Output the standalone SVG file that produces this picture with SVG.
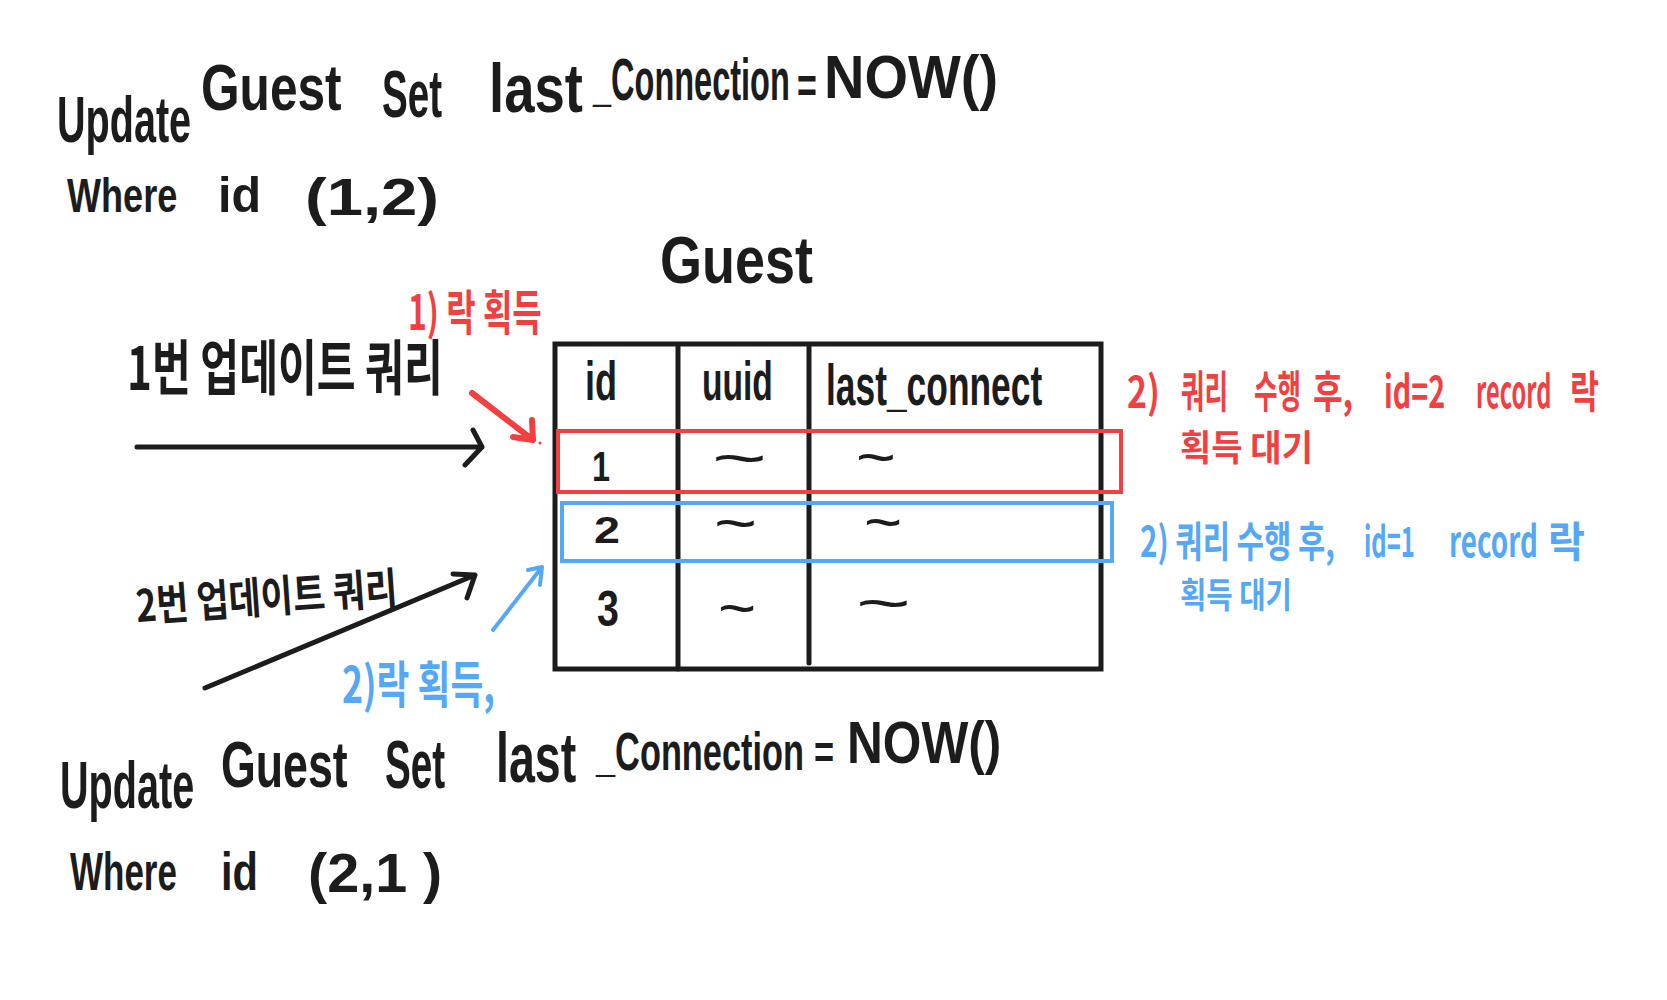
<svg xmlns="http://www.w3.org/2000/svg" width="1667" height="1000" viewBox="0 0 1667 1000">
<style>
.lat{font-family:"Liberation Sans",Arial,sans-serif;fill:#1c1c1c;font-weight:bold}
.tl{font-family:"Liberation Sans",Arial,sans-serif;fill:#1c1c1c}
.kr{font-family:"Noto Sans CJK KR","Noto Sans",sans-serif;font-weight:bold}
.blk{fill:#1c1c1c}
.red{fill:#f23f3f}
.blue{fill:#55a8f8}
.line{fill:none;stroke:#1c1c1c;stroke-width:5;stroke-linecap:round;stroke-linejoin:round}
.rl{fill:none;stroke:#f23f3f;stroke-width:6;stroke-linecap:round;stroke-linejoin:round}
.bl{fill:none;stroke:#55a8f8;stroke-width:4;stroke-linecap:round;stroke-linejoin:round}
</style>
<rect width="1667" height="1000" fill="#ffffff"/>

<g id="query1">
<text class="lat" transform="translate(57,142) scale(0.618,1)" font-size="64" textLength="217" lengthAdjust="spacingAndGlyphs">Update</text>
<text class="lat" transform="translate(201,110) scale(0.777,1)" font-size="64" textLength="181" lengthAdjust="spacingAndGlyphs">Guest</text>
<text class="lat" transform="translate(382,117) scale(0.584,1)" font-size="66" textLength="103" lengthAdjust="spacingAndGlyphs">Set</text>
<text class="lat" transform="translate(489,112) scale(0.802,1)" font-size="68" textLength="117" lengthAdjust="spacingAndGlyphs">last</text>
<text class="lat" transform="translate(593,100) scale(0.542,1)" font-size="60" textLength="363" lengthAdjust="spacingAndGlyphs">_Connection</text>
<text class="lat" transform="translate(797,103) scale(0.685,1)" font-size="50" textLength="29" lengthAdjust="spacingAndGlyphs">=</text>
<text class="lat" transform="translate(824,98) scale(0.902,1)" font-size="62" textLength="193" lengthAdjust="spacingAndGlyphs">NOW()</text>
<text class="lat" transform="translate(67,212) scale(0.75,1)" font-size="48" textLength="147" lengthAdjust="spacingAndGlyphs">Where</text>
<text class="lat" transform="translate(218,212) scale(0.967,1)" font-size="50" textLength="44.5" lengthAdjust="spacingAndGlyphs">id</text>
<text class="lat" transform="translate(305,215) scale(1.253,1)" font-size="52" textLength="107" lengthAdjust="spacingAndGlyphs">(1,2)</text>
</g>

<g id="query2">
<text class="lat" transform="translate(60,808) scale(0.599,1)" font-size="66" textLength="224" lengthAdjust="spacingAndGlyphs">Update</text>
<text class="lat" transform="translate(221,787) scale(0.7,1)" font-size="64" textLength="181" lengthAdjust="spacingAndGlyphs">Guest</text>
<text class="lat" transform="translate(385,788) scale(0.567,1)" font-size="68" textLength="106" lengthAdjust="spacingAndGlyphs">Set</text>
<text class="lat" transform="translate(496,782) scale(0.663,1)" font-size="70" textLength="121" lengthAdjust="spacingAndGlyphs">last</text>
<text class="lat" transform="translate(596,770) scale(0.636,1)" font-size="54" textLength="327" lengthAdjust="spacingAndGlyphs">_Connection</text>
<text class="lat" transform="translate(814,768) scale(0.744,1)" font-size="46" textLength="27" lengthAdjust="spacingAndGlyphs">=</text>
<text class="lat" transform="translate(847,763) scale(0.825,1)" font-size="60" textLength="187" lengthAdjust="spacingAndGlyphs">NOW()</text>
<text class="lat" transform="translate(70,890) scale(0.648,1)" font-size="54" textLength="165" lengthAdjust="spacingAndGlyphs">Where</text>
<text class="lat" transform="translate(221,890) scale(0.771,1)" font-size="54" textLength="48" lengthAdjust="spacingAndGlyphs">id</text>
<text class="lat" transform="translate(308,892) scale(1.025,1)" font-size="56" textLength="131" lengthAdjust="spacingAndGlyphs">(2,1 )</text>
</g>

<g id="guest-table">
<text class="lat" transform="translate(660,283) scale(0.818,1)" font-size="66" textLength="187" lengthAdjust="spacingAndGlyphs">Guest</text>
<rect x="555" y="344" width="546" height="325" fill="none" stroke="#1c1c1c" stroke-width="5"/>
<line class="line" x1="678" y1="347" x2="678" y2="669"/>
<line class="line" x1="809" y1="347" x2="809" y2="663"/>
<text class="lat" transform="translate(585,400) scale(0.654,1)" font-size="55" textLength="49" lengthAdjust="spacingAndGlyphs">id</text>
<text class="lat" transform="translate(702,400) scale(0.611,1)" font-size="55" textLength="116" lengthAdjust="spacingAndGlyphs">uuid</text>
<text class="lat" transform="translate(826,405) scale(0.609,1)" font-size="58" textLength="355" lengthAdjust="spacingAndGlyphs">last_connect</text>
<text class="lat" transform="translate(592,481) scale(0.77,1)" font-size="42" textLength="23.4" lengthAdjust="spacingAndGlyphs">1</text>
<text class="lat" transform="translate(594,543) scale(1.3,1)" font-size="36" textLength="20" lengthAdjust="spacingAndGlyphs">2</text>
<text class="lat" transform="translate(597,626) scale(0.79,1)" font-size="50" textLength="27.8" lengthAdjust="spacingAndGlyphs">3</text>
<text class="tl" transform="translate(712,478) scale(1.57,1)" font-size="60" textLength="35" lengthAdjust="spacingAndGlyphs">~</text>
<text class="tl" transform="translate(856,477) scale(1.14,1)" font-size="60" textLength="35" lengthAdjust="spacingAndGlyphs">~</text>
<text class="tl" transform="translate(714,543) scale(1.23,1)" font-size="60" textLength="35" lengthAdjust="spacingAndGlyphs">~</text>
<text class="tl" transform="translate(864,542) scale(1.09,1)" font-size="60" textLength="35" lengthAdjust="spacingAndGlyphs">~</text>
<text class="tl" transform="translate(718,628) scale(1.09,1)" font-size="60" textLength="35" lengthAdjust="spacingAndGlyphs">~</text>
<text class="tl" transform="translate(856,623) scale(1.57,1)" font-size="60" textLength="35" lengthAdjust="spacingAndGlyphs">~</text>
<rect x="558" y="431" width="563" height="61" fill="none" stroke="#f23f3f" stroke-width="4"/>
<rect x="562" y="503" width="550" height="58" fill="none" stroke="#55a8f8" stroke-width="4"/>
</g>

<g id="label-query1">
<text class="kr blk" transform="translate(127,390) scale(0.658,1)" font-size="60" textLength="480" lengthAdjust="spacingAndGlyphs">1번 업데이트 쿼리</text>
</g>
<g id="label-query2">
<text class="kr blk" transform="translate(137,622) rotate(-4) scale(0.744,1)" font-size="44" textLength="352" lengthAdjust="spacingAndGlyphs">2번 업데이트 쿼리</text>
</g>
<g id="label-lock1">
<text class="kr red" transform="translate(408,330) scale(0.646,1)" font-size="48" textLength="207" lengthAdjust="spacingAndGlyphs">1) 락 획득</text>
</g>
<g id="label-lock2">
<text class="kr blue" transform="translate(342,703) scale(0.7,1)" font-size="50" textLength="218.5" lengthAdjust="spacingAndGlyphs">2)락 획득,</text>
</g>
<g id="note-red" class="kr red" font-size="44">
<text transform="translate(1127,408) scale(0.85,1)" textLength="38.7" lengthAdjust="spacingAndGlyphs">2)</text>
<text transform="translate(1181,408) scale(0.534,1)" textLength="88" lengthAdjust="spacingAndGlyphs">쿼리</text>
<text transform="translate(1254,408) scale(0.534,1)" textLength="88" lengthAdjust="spacingAndGlyphs">수행</text>
<text transform="translate(1313,408) scale(0.716,1)" textLength="55.9" lengthAdjust="spacingAndGlyphs">후,</text>
<text transform="translate(1384,408) scale(0.71,1)" textLength="86" lengthAdjust="spacingAndGlyphs">id=2</text>
<text transform="translate(1476,408) scale(0.58,1)" textLength="130" lengthAdjust="spacingAndGlyphs">record</text>
<text transform="translate(1570,408) scale(0.66,1)" textLength="44" lengthAdjust="spacingAndGlyphs">락</text>
<text transform="translate(1180,461) scale(0.875,1)" font-size="36" textLength="152" lengthAdjust="spacingAndGlyphs">획득 대기</text>
</g>
<g id="note-blue" class="kr blue" font-size="42">
<text transform="translate(1140,557) scale(0.704,1)" textLength="276.8" lengthAdjust="spacingAndGlyphs">2) 쿼리 수행 후,</text>
<text transform="translate(1364,557) scale(0.621,1)" textLength="82.1" lengthAdjust="spacingAndGlyphs">id=1</text>
<text transform="translate(1449,557) scale(0.717,1)" textLength="124.1" lengthAdjust="spacingAndGlyphs">record</text>
<text transform="translate(1548,557) scale(0.881,1)" textLength="42" lengthAdjust="spacingAndGlyphs">락</text>
<text transform="translate(1180,608) scale(0.758,1)" font-size="35" textLength="147.7" lengthAdjust="spacingAndGlyphs">획득 대기</text>
</g>

<g id="connectors">
<path class="line" d="M137 447 L482 447 M473 430 L482 447 L465 465"/>
<path class="line" d="M205 688 L475 575 M453 574 L475 575 L467 598"/>
<path class="rl" d="M472 393 L533 440 M513 437 L533 440 L532 420"/>
<circle cx="540" cy="443" r="1.5" fill="#f23f3f"/>
<path class="bl" d="M493 630 L542 567 M528 570 L542 567 L540 585"/>
</g>
</svg>
